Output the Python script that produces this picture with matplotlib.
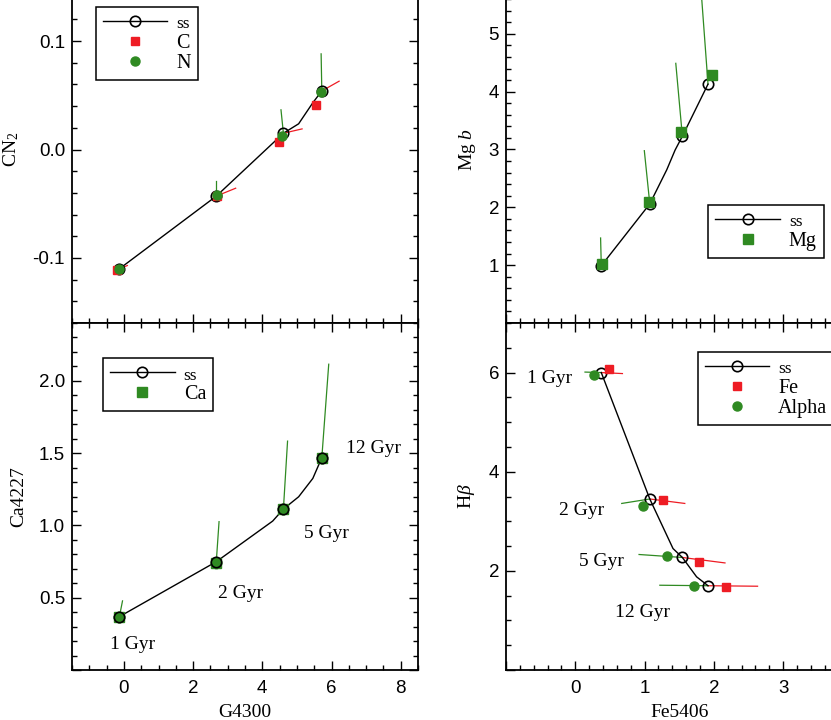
import matplotlib
matplotlib.use('Agg')
import matplotlib.pyplot as plt
from matplotlib.lines import Line2D
from matplotlib.ticker import MultipleLocator, FuncFormatter

# ---------------- data ----------------
age_labels = ['1 Gyr', '2 Gyr', '5 Gyr', '12 Gyr']

# SSP model ages 1, 2, 5, 12 Gyr (markers)
g4300_ss = [-0.13, 2.67, 4.61, 5.72]
cn2_ss = [-0.110, -0.043, 0.015, 0.054]
ca4227_ss = [0.369, 0.749, 1.113, 1.468]
fe5406_ss = [0.375, 1.075, 1.545, 1.915]
mgb_ss = [0.99, 2.06, 3.23, 4.13]
hbeta_ss = [6.00, 3.45, 2.27, 1.70]

# SSP model tracks (finer age grid)
g4300_line = [-0.13, 2.67, 4.30, 4.61, 5.05, 5.46, 5.72]
cn2_line = [-0.110, -0.043, 0.0057, 0.015, 0.0237, 0.0431, 0.054]
ca4227_line = [0.369, 0.749, 1.030, 1.113, 1.198, 1.325, 1.468]
fe5406_line_mg = [0.375, 1.075, 1.32, 1.44, 1.545, 1.915]
mgb_line = [0.99, 2.06, 2.65, 2.99, 3.23, 4.13]
fe5406_line_hb = [0.375, 1.075, 1.41, 1.545, 1.75, 1.915]
hbeta_line = [6.00, 3.45, 2.45, 2.27, 1.88, 1.70]

# CN2 panel: C- and N-enhanced models
c_g4300 = [-0.19, 2.70, 4.48, 5.55]
c_cn2 = [-0.111, -0.0425, 0.0067, 0.0412]
c_vec_g4300 = [0.10, 3.23, 5.15, 6.22]
c_vec_cn2 = [-0.107, -0.0357, 0.019, 0.063]
n_g4300 = [-0.13, 2.69, 4.57, 5.70]
n_cn2 = [-0.110, -0.0415, 0.0129, 0.0528]
n_vec_g4300 = [-0.13, 2.67, 4.54, 5.70]
n_vec_cn2 = [-0.106, -0.0286, 0.0366, 0.0882]

# Mg b panel: Mg-enhanced models
mg_fe5406 = [0.38, 1.07, 1.53, 1.97]
mg_mgb = [1.02, 2.09, 3.31, 4.28]
mg_vec_fe5406 = [0.365, 0.996, 1.45, 1.80]
mg_vec_mgb = [1.47, 2.98, 4.49, 6.0]

# Ca4227 panel: Ca-enhanced models
ca_g4300 = [-0.13, 2.67, 4.61, 5.73]
ca_ca4227 = [0.369, 0.738, 1.113, 1.468]
ca_vec_g4300 = [-0.04, 2.75, 4.73, 5.92]
ca_vec_ca4227 = [0.478, 1.026, 1.583, 2.115]

# Hbeta panel: Fe- and alpha-enhanced models
fe_fe5406 = [0.49, 1.27, 1.78, 2.17]
fe_hbeta = [6.08, 3.43, 2.18, 1.68]
fe_vec_fe5406 = [0.68, 1.58, 2.16, 2.63]
fe_vec_hbeta = [5.98, 3.36, 2.16, 1.69]
al_fe5406 = [0.27, 0.98, 1.33, 1.72]
al_hbeta = [5.95, 3.30, 2.30, 1.70]
al_vec_fe5406 = [0.14, 0.67, 0.92, 1.22]
al_vec_hbeta = [6.01, 3.36, 2.33, 1.71]

# ---------------- style ----------------
plt.rcParams['font.family'] = ['Liberation Serif', 'DejaVu Serif']
plt.rcParams['mathtext.fontset'] = 'custom'
plt.rcParams['mathtext.rm'] = 'Liberation Serif'
plt.rcParams['mathtext.it'] = 'Liberation Serif:italic'
plt.rcParams['axes.unicode_minus'] = False

RED = '#ee1c24'
GREEN = '#2f8a22'
TICKFONT = 'Liberation Sans'

W, H = 831, 720
fig = plt.figure(figsize=(W / 100, H / 100), dpi=100)

def px_axes(x0, x1, ytop, ybot):
    return fig.add_axes([x0 / W, (H - ybot) / H, (x1 - x0) / W, (ybot - ytop) / H])

ax_cn = px_axes(72, 418, -24, 323)
ax_mg = px_axes(506, 852.5, -24, 323)
ax_ca = px_axes(72, 418, 323, 670)
ax_hb = px_axes(506, 852.5, 323, 670)

def limfmt(fmt, lo, hi):
    def f(v, pos):
        if abs(v - lo) < 1e-9 or abs(v - hi) < 1e-9:
            return ''
        if abs(v) < 1e-12:
            v = 0.0
        return fmt % v
    return FuncFormatter(f)

def style(ax, xlim, ylim, xmaj, xmin, ymaj, ymin, yfmt, xlabels):
    ax.set_xlim(*xlim)
    ax.set_ylim(*ylim)
    ax.xaxis.set_major_locator(MultipleLocator(xmaj))
    ax.xaxis.set_minor_locator(MultipleLocator(xmin))
    ax.yaxis.set_major_locator(MultipleLocator(ymaj))
    ax.yaxis.set_minor_locator(MultipleLocator(ymin))
    ax.yaxis.set_major_formatter(limfmt(yfmt, *ylim))
    ax.xaxis.set_major_formatter(limfmt('%d', *xlim))
    ax.tick_params(which='both', direction='in', top=True, right=True, width=1.0)
    ax.tick_params(which='major', length=6.5)
    ax.tick_params(which='minor', length=3.6)
    ax.tick_params(axis='y', pad=5.0)
    ax.tick_params(axis='x', pad=7.0, labelbottom=xlabels)
    for lab in ax.get_xticklabels() + ax.get_yticklabels():
        lab.set_fontfamily(TICKFONT)
        lab.set_fontsize(13.5)
    for s in ax.spines.values():
        s.set_linewidth(1.3)

style(ax_cn, (-1.5, 8.5), (-0.16, 0.16), 2, 0.5, 0.1, 0.02, '%.1f', False)
style(ax_ca, (-1.5, 8.5), (0.0, 2.4), 2, 0.5, 0.5, 0.1, '%.1f', True)
style(ax_mg, (-1.0, 4.0), (0.0, 6.0), 1, 0.2, 1, 0.2, '%d', False)
style(ax_hb, (-1.0, 4.0), (0.0, 7.0), 1, 0.2, 2, 0.5, '%d', True)

LW_VEC = 0.9
ss_kw = dict(marker='o', ms=7.5, mfc='none', mec='k', mew=1.2, ls='none', zorder=4)
ss_proxy = Line2D([], [], color='k', lw=1.0, marker='o', ms=7.5, mfc='none', mec='k', mew=1.2)

def vectors(ax, x0, y0, x1, y1, color):
    for a, b, c, d in zip(x0, y0, x1, y1):
        ax.plot([a, c], [b, d], color=color, lw=LW_VEC, zorder=2)

def legend(ax, handles, labels, anchor):
    leg = ax.legend(handles, labels, loc='upper left', bbox_to_anchor=anchor,
                    borderaxespad=0, fontsize=14.5, numpoints=1, handlelength=3.2,
                    handletextpad=0.45, borderpad=0.35, labelspacing=0.08,
                    fancybox=False, framealpha=1, edgecolor='k')
    leg.get_frame().set_linewidth(1.1)
    leg.get_texts()[0].set_fontsize(12.5)
    return leg

# --- CN2 vs G4300 ---
ax = ax_cn
vectors(ax, g4300_ss, cn2_ss, c_vec_g4300, c_vec_cn2, RED)
vectors(ax, g4300_ss, cn2_ss, n_vec_g4300, n_vec_cn2, GREEN)
ax.plot(g4300_line, cn2_line, color='k', lw=1.0, zorder=3)
ax.plot(g4300_ss, cn2_ss, **ss_kw)
hc, = ax.plot(c_g4300, c_cn2, 's', color=RED, ms=6, zorder=5)
hn, = ax.plot(n_g4300, n_cn2, 'o', color=GREEN, ms=6.5, zorder=6)
legend(ax, [ss_proxy, hc, hn], ['ss', 'C', 'N'], (0.069, 0.9115))
ax.set_ylabel(r'CN$_2$', fontsize=14)
ax.yaxis.set_label_coords(-0.148, 0.5)

# --- Mg b vs Fe5406 ---
ax = ax_mg
vectors(ax, fe5406_ss, mgb_ss, mg_vec_fe5406, mg_vec_mgb, GREEN)
ax.plot(fe5406_line_mg, mgb_line, color='k', lw=1.0, zorder=3)
ax.plot(fe5406_ss, mgb_ss, **ss_kw)
hmg, = ax.plot(mg_fe5406, mg_mgb, 's', color=GREEN, ms=6.5, zorder=5)
legend(ax, [ss_proxy, hmg], ['ss', 'Mg'], (0.584, 0.340))
ax.set_ylabel(r'Mg $b$', fontsize=14)
ax.yaxis.set_label_coords(-0.08, 0.5)

# --- Ca4227 vs G4300 ---
ax = ax_ca
vectors(ax, g4300_ss, ca4227_ss, ca_vec_g4300, ca_vec_ca4227, GREEN)
ax.plot(g4300_line, ca4227_line, color='k', lw=1.0, zorder=3)
hca, = ax.plot(ca_g4300, ca_ca4227, 's', color=GREEN, ms=7, zorder=3.5)
ax.plot(ca_g4300, ca_ca4227, 'o', color=GREEN, ms=7.5, zorder=3.6)
ax.plot(g4300_ss, ca4227_ss, **ss_kw)
legend(ax, [ss_proxy, hca], ['ss', 'Ca'], (0.090, 0.898))
ax.set_ylabel('Ca4227', fontsize=14)
ax.yaxis.set_label_coords(-0.128, 0.5)
ax.set_xlabel('G4300', fontsize=14)
ca_age_pos = [(0.26, 0.173), (3.36, 0.53), (5.86, 0.945), (7.2, 1.53)]
for lab, (x, y) in zip(age_labels, ca_age_pos):
    ax.text(x, y, lab, fontsize=14, ha='center', va='center')

# --- Hbeta vs Fe5406 ---
ax = ax_hb
vectors(ax, fe5406_ss, hbeta_ss, fe_vec_fe5406, fe_vec_hbeta, RED)
vectors(ax, fe5406_ss, hbeta_ss, al_vec_fe5406, al_vec_hbeta, GREEN)
ax.plot(fe5406_line_hb, hbeta_line, color='k', lw=1.0, zorder=3)
ax.plot(fe5406_ss, hbeta_ss, **ss_kw)
hfe, = ax.plot(fe_fe5406, fe_hbeta, 's', color=RED, ms=6, zorder=5)
hal, = ax.plot(al_fe5406, al_hbeta, 'o', color=GREEN, ms=6.5, zorder=6)
legend(ax, [ss_proxy, hfe, hal], ['ss', 'Fe', 'Alpha'], (0.553, 0.917))
ax.set_ylabel(r'H$\beta$', fontsize=14)
ax.yaxis.set_label_coords(-0.085, 0.5)
ax.set_xlabel('Fe5406', fontsize=14)
hb_age_pos = [(-0.37, 5.88), (0.09, 3.22), (0.37, 2.18), (0.97, 1.16)]
for lab, (x, y) in zip(age_labels, hb_age_pos):
    ax.text(x, y, lab, fontsize=14, ha='center', va='center')

for a in (ax_ca, ax_hb):
    a.xaxis.set_label_coords(0.5, -0.122)
    a.xaxis.label.set_va('center')

fig.savefig('out.png', dpi=100)
